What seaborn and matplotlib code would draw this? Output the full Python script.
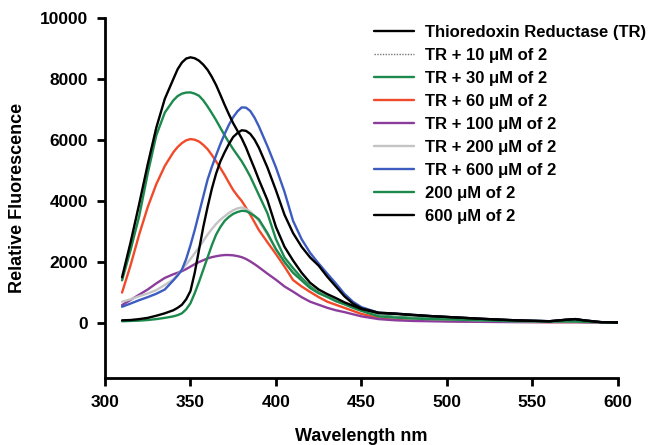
import numpy as np
import pandas as pd
import matplotlib
matplotlib.use("Agg")
import matplotlib.pyplot as plt
import seaborn as sns

# --- data (wavelength in nm, relative fluorescence) ---
wavelength = [310, 315, 320, 325, 330, 335, 340,
              342.5, 345, 347.5, 350, 352.5, 355, 357.5, 360, 362.5, 365,
              367.5, 370, 372.5, 375, 377.5, 380, 382.5, 385, 387.5, 390,
              395, 400,
              405, 410, 415, 420, 425, 430, 435, 440, 445, 450,
              460, 470, 480, 490, 500, 520, 540, 560, 570, 575, 580, 590, 600]

tr = [1500, 2650, 3900, 5200, 6400, 7350, 8000,
      8320, 8540, 8670, 8710, 8680, 8600, 8470, 8300, 8070, 7800,
      7480, 7150, 6840, 6550, 6300, 6050, 5750, 5400, 5060, 4700,
      4030, 3150,
      2500, 2050, 1650, 1320, 1100, 950, 820, 680, 570, 460,
      330, 300, 260, 230, 200, 140, 90, 60, 110, 130, 90, 30, 20]

# the dotted TR + 10 uM trace is hidden under the TR trace
tr_10 = tr.copy()

tr_30 = [1400, 2400, 3500, 4900, 6150, 6900, 7300,
         7440, 7520, 7555, 7560, 7520, 7450, 7300, 7100, 6880, 6650,
         6400, 6150, 5920, 5700, 5500, 5300, 5060, 4800, 4500, 4200,
         3600, 2750,
         2150, 1800, 1480, 1200, 1000, 860, 730, 620, 520, 420,
         250, 200, 170, 150, 130, 100, 70, 50, 50, 50, 40, 30, 20]

tr_60 = [1000, 1900, 2900, 3800, 4550, 5150, 5600,
         5770, 5900, 5990, 6030, 6010, 5950, 5840, 5700, 5510, 5300,
         5080, 4850, 4600, 4360, 4170, 4000, 3780, 3550, 3300, 3050,
         2650, 2260,
         1850, 1410, 1200, 1020, 850, 700, 600, 500, 400, 300,
         170, 120, 100, 80, 70, 50, 40, 30, 30, 30, 30, 20, 20]

tr_100 = [590, 760, 930, 1100, 1300, 1480, 1600,
          1650, 1700, 1770, 1850, 1930, 2000, 2060, 2120, 2160, 2190,
          2215, 2230, 2230, 2220, 2195, 2160, 2100, 2020, 1930, 1830,
          1620, 1420,
          1200, 1030, 850, 700, 600, 500, 420, 360, 290, 220,
          130, 90, 70, 60, 50, 40, 30, 30, 30, 30, 25, 20, 20]

tr_200 = [700, 780, 880, 970, 1080, 1250, 1430,
          1590, 1750, 1920, 2100, 2290, 2480, 2690, 2900, 3080, 3250,
          3390, 3500, 3610, 3700, 3760, 3790, 3740, 3650, 3510, 3350,
          2900, 2420,
          2000, 1650, 1400, 1150, 980, 860, 720, 620, 520, 420,
          230, 180, 150, 130, 120, 90, 60, 50, 50, 50, 40, 30, 20]

tr_600 = [535, 640, 750, 850, 960, 1100, 1400,
          1560, 1750, 2100, 2550, 3050, 3600, 4150, 4700, 5120, 5500,
          5870, 6200, 6500, 6750, 6940, 7070, 7060, 6950, 6730, 6450,
          5800, 5100,
          4300, 3350, 2750, 2300, 1950, 1620, 1300, 960, 700, 520,
          340, 310, 270, 230, 200, 140, 90, 60, 110, 130, 90, 30, 20]

c_200 = [60, 70, 80, 100, 130, 170, 220,
         260, 320, 450, 650, 980, 1350, 1750, 2150, 2550, 2900,
         3150, 3350, 3480, 3580, 3640, 3680, 3670, 3600, 3510, 3400,
         2950, 2420,
         2000, 1650, 1400, 1150, 980, 860, 720, 620, 500, 400,
         220, 180, 150, 130, 120, 90, 60, 50, 50, 50, 40, 30, 20]

c_600 = [90, 100, 130, 170, 240, 320, 420,
         500, 600, 780, 1050, 1650, 2400, 3150, 3800, 4400, 4900,
         5300, 5600, 5870, 6100, 6230, 6320, 6300, 6200, 6010, 5750,
         5100, 4350,
         3550, 2950, 2500, 2150, 1880, 1520, 1200, 880, 640, 480,
         340, 310, 270, 230, 200, 140, 90, 60, 110, 130, 90, 30, 20]

labels = ["Thioredoxin Reductase (TR)", "TR + 10 \u03bcM of 2", "TR + 30 \u03bcM of 2",
          "TR + 60 \u03bcM of 2", "TR + 100 \u03bcM of 2", "TR + 200 \u03bcM of 2",
          "TR + 600 \u03bcM of 2", "200 \u03bcM of 2", "600 \u03bcM of 2"]
series = [tr, tr_10, tr_30, tr_60, tr_100, tr_200, tr_600, c_200, c_600]
colors = ["#000000", "#777777", "#1b8a4c", "#f04a2a", "#8c3d9c",
          "#c4c4c4", "#3c5cc0", "#1b8a4c", "#000000"]

for s in series:
    assert len(s) == len(wavelength)

df = pd.concat(
    [pd.DataFrame({"wavelength": wavelength, "fluorescence": s, "sample": lab})
     for lab, s in zip(labels, series)],
    ignore_index=True,
)

sns.set_theme(style="white")
plt.rcParams["font.family"] = ["Liberation Sans", "DejaVu Sans"]
plt.rcParams["font.weight"] = "bold"
plt.rcParams["text.color"] = "black"
plt.rcParams["axes.labelcolor"] = "black"
plt.rcParams["xtick.color"] = "black"
plt.rcParams["ytick.color"] = "black"

fig = plt.figure(figsize=(6.56, 4.45), dpi=100)
ax = fig.add_axes([0.160, 0.1506, 0.782, 0.809])

dashes = {lab: "" for lab in labels}
dashes[labels[1]] = (1, 1)

sns.lineplot(
    data=df, x="wavelength", y="fluorescence",
    hue="sample", hue_order=labels, palette=dict(zip(labels, colors)),
    style="sample", style_order=labels, dashes=dashes,
    estimator=None, sort=False, linewidth=1.7, legend=False, ax=ax,
)
ax.lines[1].set_linewidth(1.0)
# the plain TR trace sits on top of the TR + 10 uM trace
ax.lines[0].set_zorder(3)

ax.set_xlim(300, 600)
ax.set_ylim(-1800, 10000)
ax.set_xticks(np.arange(300, 601, 50))
ax.set_yticks(np.arange(0, 10001, 2000))

for side in ["top", "right"]:
    ax.spines[side].set_visible(False)
for side in ["left", "bottom"]:
    ax.spines[side].set_linewidth(2)
    ax.spines[side].set_color("black")

ax.tick_params(axis="both", direction="out", length=6, width=2, color="black",
               labelcolor="black", labelsize=12.5, pad=6, bottom=True, left=True)
for lbl in ax.get_xticklabels() + ax.get_yticklabels():
    lbl.set_fontweight("bold")

ax.set_xlabel("Wavelength nm", fontsize=13, fontweight="bold", labelpad=13)
ax.set_ylabel("Relative Fluorescence", fontsize=13, fontweight="bold", labelpad=10)

fig.legend(ax.lines, labels, loc="upper left", bbox_to_anchor=(0.557, 0.962),
           frameon=False, borderpad=0, handlelength=2.4, handletextpad=0.7,
           labelspacing=0.48, prop={"size": 12, "weight": "bold"})

fig.savefig("out.png", dpi=100)
